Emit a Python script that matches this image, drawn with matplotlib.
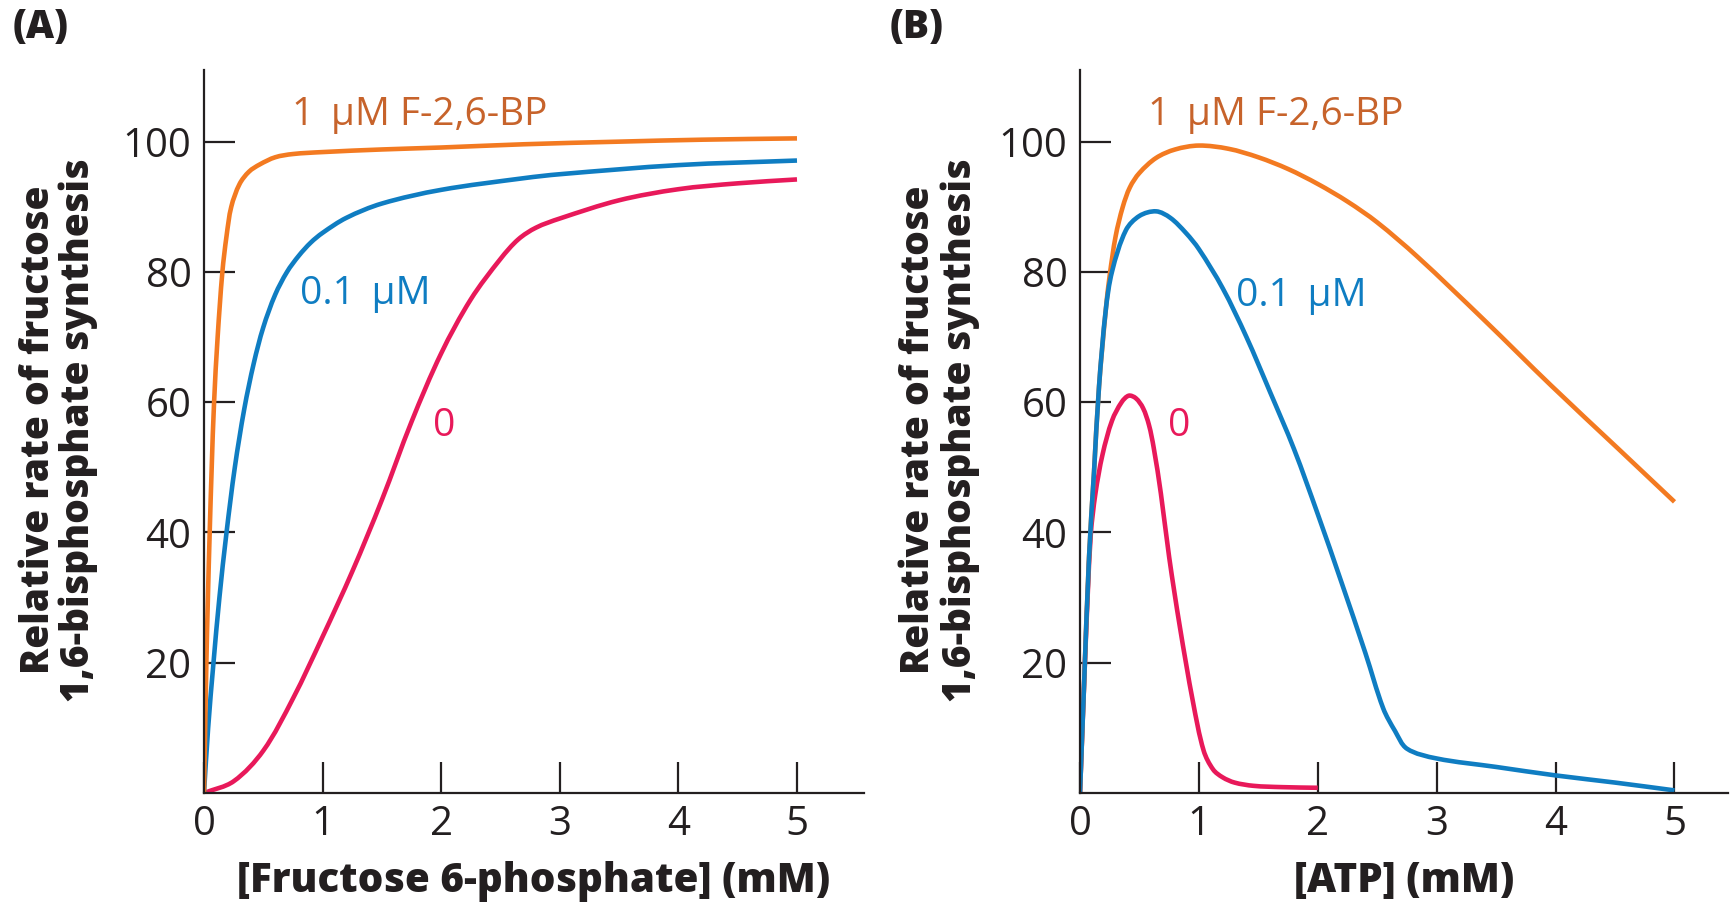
import matplotlib
matplotlib.use("Agg")
import matplotlib.pyplot as plt
import numpy as np
from matplotlib.path import Path
from matplotlib.patches import PathPatch

# ---------------- data ----------------
# Panel A: rate vs [Fructose 6-phosphate] (mM)
a_orange_x = [0, 0.01, 0.02, 0.033, 0.048, 0.065, 0.085, 0.115, 0.155, 0.19, 0.23, 0.3, 0.38, 0.47, 0.6, 0.75, 1.0, 1.5, 2.0, 2.7, 3.5, 4.2, 5.0]
a_orange_y = [0, 10, 20, 30, 40, 50, 60, 70, 80, 85.5, 90, 93.5, 95.4, 96.5, 97.6, 98.1, 98.4, 98.8, 99.1, 99.6, 100.0, 100.3, 100.5]

a_blue_x = [0, 0.035, 0.08, 0.13, 0.19, 0.26, 0.34, 0.42, 0.5, 0.6, 0.7, 0.8, 0.9, 1.0, 1.2, 1.5, 2.0, 2.7, 3.0, 4.0, 5.0]
a_blue_y = [0, 10, 20, 30, 40, 50, 59, 66, 71.5, 76.5, 80, 82.5, 84.5, 86, 88.3, 90.5, 92.6, 94.4, 95, 96.4, 97.1]

a_red_x = [0, 0.25, 0.5, 0.75, 1.0, 1.25, 1.5, 1.75, 2.0, 2.25, 2.5, 2.65, 2.8, 3.0, 3.5, 4.0, 4.5, 5.0]
a_red_y = [0, 1.8, 6.5, 14.5, 24, 34, 45, 57, 67.5, 75.8, 82.0, 85.0, 86.8, 88.2, 91.0, 92.7, 93.6, 94.2]

# Panel B: rate vs [ATP] (mM)
b_orange_x = [0, 0.034, 0.076, 0.118, 0.16, 0.217, 0.25, 0.3, 0.36, 0.42, 0.5, 0.64, 0.8, 1.0, 1.25, 1.5, 1.75, 2.0, 2.25, 2.5, 2.84, 3.4, 3.96, 4.53, 5.0]
b_orange_y = [0, 16.5, 36.2, 49.3, 62.4, 74.2, 79.5, 85.5, 90, 93, 95.2, 97.5, 98.8, 99.4, 98.9, 97.6, 95.8, 93.5, 90.8, 87.6, 82.3, 72.6, 62.6, 52.8, 44.7]

b_blue_x = [0, 0.034, 0.076, 0.118, 0.16, 0.217, 0.27, 0.386, 0.5, 0.64, 0.76, 0.89, 1.0, 1.2, 1.4, 1.6, 1.8, 2.0, 2.2, 2.4, 2.55, 2.65, 2.75, 3.0, 3.5, 4.0, 4.5, 5.0]
b_blue_y = [0, 16.5, 36.2, 49.3, 62.4, 74.2, 80.1, 86.4, 88.6, 89.3, 88.3, 86, 83.5, 77.5, 70, 61.5, 52.8, 42.8, 32.3, 21.5, 13, 9.5, 6.8, 5.3, 4.0, 2.7, 1.6, 0.4]

b_red_x = [0, 0.048, 0.09, 0.13, 0.19, 0.27, 0.35, 0.41, 0.47, 0.53, 0.58, 0.62, 0.68, 0.75, 0.84, 0.95, 1.04, 1.12, 1.2, 1.3, 1.46, 1.7, 2.0]
b_red_y = [0, 23, 39.5, 46, 52, 57.2, 60, 61, 60.6, 59.1, 56.5, 53, 46, 36.2, 25.5, 14, 6.5, 3.6, 2.4, 1.6, 1.1, 0.9, 0.8]

x_ticks = [0, 1, 2, 3, 4, 5]
y_ticks = [20, 40, 60, 80, 100]
series_labels = ["1 \u2009\u03bcM F-2,6-BP", "0.1 \u2009\u03bcM", "0"]
ylabel_lines = ["Relative rate of fructose", "1,6-bisphosphate synthesis"]
xlabels = ["[Fructose 6-phosphate] (mM)", "[ATP] (mM)"]
panel_tags = ["(A)", "(B)"]

# ---------------- style ----------------
ORANGE = "#F37A21"
ORANGE_TXT = "#C7632B"
BLUE = "#0F7DC2"
RED = "#E8195A"
DARK = "#231F20"
REG = ["Open Sans", "DejaVu Sans"]
BOLD = ["Open Sans", "DejaVu Sans"]
HEAVY = 800

W, H = 1731, 906
fig = plt.figure(figsize=(W / 100, H / 100), dpi=100)
fig.patch.set_facecolor("white")

axA = fig.add_axes([204 / W, 113 / H, 660 / W, 723 / H])
axB = fig.add_axes([1080 / W, 113 / H, 648 / W, 723 / H])

def style(ax, xmax):
    ax.set_xlim(0, xmax)
    ax.set_ylim(0, 111)
    for s in ["top", "right"]:
        ax.spines[s].set_visible(False)
    for s in ["left", "bottom"]:
        ax.spines[s].set_color(DARK)
        ax.spines[s].set_linewidth(1.6)
    ax.set_xticks(x_ticks)
    ax.set_xticklabels([str(v) for v in x_ticks], family=REG, fontsize=29, color=DARK)
    ax.set_yticks(y_ticks)
    ax.set_yticklabels([str(v) for v in y_ticks], family=REG, fontsize=29, color=DARK)
    ax.tick_params(axis="both", direction="in", length=22, width=1.6, color=DARK)
    ax.tick_params(axis="x", pad=8)
    ax.tick_params(axis="y", pad=9)
    ax.set_facecolor("white")

style(axA, 5.565)
style(axB, 5.45)


def smooth_curve(ax, xs, ys, color, lw=3.3, z=2):
    """Draw a smooth Bezier path through the data points (computed in display space)."""
    pts = ax.transData.transform(np.column_stack([xs, ys]))
    n = len(pts)
    tang = np.zeros_like(pts)
    tang[0] = pts[1] - pts[0]
    tang[-1] = pts[-1] - pts[-2]
    for i in range(1, n - 1):
        tang[i] = pts[i + 1] - pts[i - 1]

    def ctrl(j, seg):
        if j == 0 or j == n - 1:
            return tang[j] / 3.0
        a = np.hypot(*(pts[j] - pts[j - 1]))
        b = np.hypot(*(pts[j + 1] - pts[j]))
        return tang[j] * seg / (3.0 * (a + b))

    verts = [pts[0]]
    codes = [Path.MOVETO]
    for i in range(n - 1):
        p0, p1 = pts[i], pts[i + 1]
        seg = np.hypot(*(p1 - p0))
        verts += [p0 + ctrl(i, seg), p1 - ctrl(i + 1, seg), p1]
        codes += [Path.CURVE4, Path.CURVE4, Path.CURVE4]
    verts = ax.transData.inverted().transform(np.array(verts))
    patch = PathPatch(Path(verts, codes), facecolor="none", edgecolor=color, lw=lw,
                      capstyle="butt", joinstyle="round", transform=ax.transData, zorder=z)
    ax.add_patch(patch)


smooth_curve(axA, a_red_x, a_red_y, RED)
smooth_curve(axA, a_blue_x, a_blue_y, BLUE)
smooth_curve(axA, a_orange_x, a_orange_y, ORANGE)

smooth_curve(axB, b_red_x, b_red_y, RED)
smooth_curve(axB, b_orange_x, b_orange_y, ORANGE)
smooth_curve(axB, b_blue_x, b_blue_y, BLUE)

# curve labels
tk = dict(family=REG, fontsize=28, va="baseline", ha="left")
axA.text(0.74, 102.6, series_labels[0], color=ORANGE_TXT, **tk)
axA.text(0.81, 75.0, series_labels[1], color=BLUE, **tk)
axA.text(1.93, 54.8, series_labels[2], color=RED, **tk)
axB.text(0.57, 102.5, series_labels[0], color=ORANGE_TXT, **tk)
axB.text(1.31, 74.7, series_labels[1], color=BLUE, **tk)
axB.text(0.74, 54.8, series_labels[2], color=RED, **tk)

# y labels
lab = dict(family=BOLD, fontweight=HEAVY, fontsize=28, color=DARK, rotation=90, ha="center", va="center")
yc = 1 - 430 / H
fig.text(39 / W, yc, ylabel_lines[0], **lab)
fig.text(78 / W, yc, ylabel_lines[1], **lab)
fig.text(919 / W, yc, ylabel_lines[0], **lab)
fig.text(960 / W, yc, ylabel_lines[1], **lab)

# x labels
xl = dict(family=BOLD, fontweight=HEAVY, fontsize=29, color=DARK, ha="center", va="baseline")
fig.text(534 / W, 1 - 892 / H, xlabels[0], **xl)
fig.text(1404 / W, 1 - 892 / H, xlabels[1], **xl)

# panel tags
pt = dict(family=BOLD, fontweight=HEAVY, fontsize=28, color=DARK, ha="left", va="top")
fig.text(13 / W, 1 - 8 / H, panel_tags[0], **pt)
fig.text(890 / W, 1 - 8 / H, panel_tags[1], **pt)

fig.savefig("out.png", dpi=100, facecolor="white")
